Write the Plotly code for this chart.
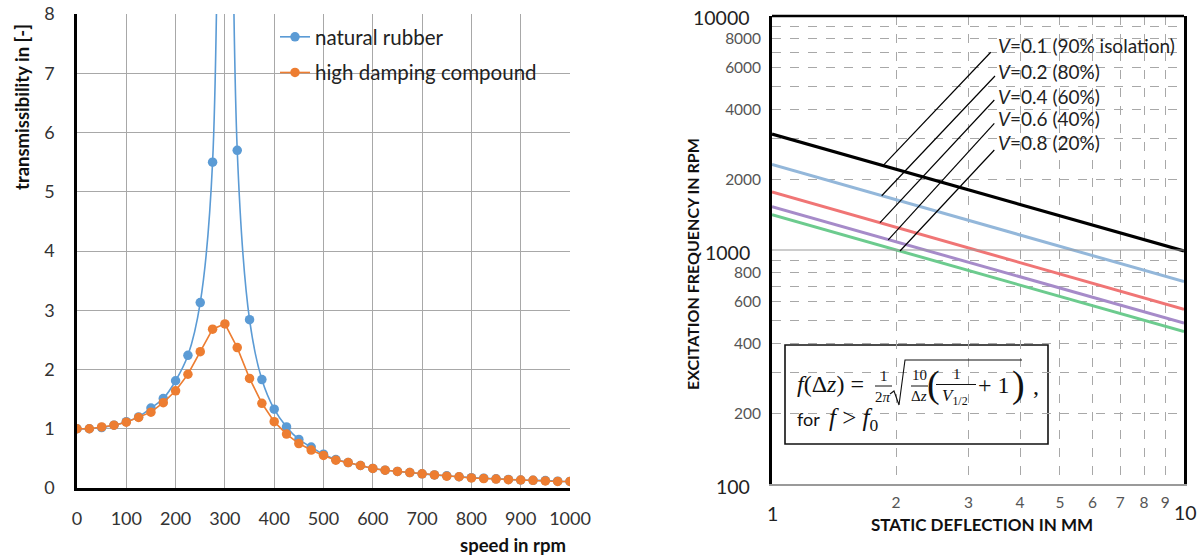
import plotly.graph_objects as go

W, H = 1203, 558

# ---------------- data: left chart ----------------
speed_rpm = [0, 25, 50, 75, 100, 125, 150, 175, 200, 225, 250, 275, 300, 325, 350, 375, 400,
             425, 450, 475, 500, 525, 550, 575, 600, 625, 650, 675, 700, 725, 750, 775, 800,
             825, 850, 875, 900, 925, 950, 975, 1000]
natural_rubber = [1.0, 1.0, 1.02, 1.06, 1.12, 1.2, 1.35, 1.51, 1.81, 2.24, 3.13, 5.5, 30.0, 5.7,
                  2.84, 1.83, 1.33, 1.03, 0.82, 0.69, 0.57, 0.48, 0.43, 0.38, 0.33, 0.30, 0.28,
                  0.26, 0.24, 0.22, 0.205, 0.19, 0.175, 0.165, 0.155, 0.145, 0.135, 0.13, 0.125,
                  0.115, 0.11]
high_damping = [1.0, 1.0, 1.03, 1.06, 1.11, 1.19, 1.28, 1.44, 1.64, 1.92, 2.30, 2.68, 2.77, 2.37,
                1.85, 1.43, 1.12, 0.91, 0.75, 0.64, 0.55, 0.47, 0.43, 0.38, 0.33, 0.30, 0.28,
                0.26, 0.24, 0.22, 0.20, 0.19, 0.17, 0.16, 0.15, 0.14, 0.135, 0.13, 0.12, 0.11,
                0.11]
left_xticks = list(range(0, 1001, 100))
left_yticks = list(range(0, 9))

# ---------------- data: right chart ----------------
deflection_mm = [1, 10]
freq_v01 = [3130, 990]
freq_v02 = [2320, 733]
freq_v04 = [1770, 558]
freq_v06 = [1530, 487]
freq_v08 = [1415, 448]
line_labels = ["<i>V</i>=0.1 (90% isolation)", "<i>V</i>=0.2 (80%)", "<i>V</i>=0.4 (60%)",
               "<i>V</i>=0.6 (40%)", "<i>V</i>=0.8 (20%)"]
# leader lines (lower end on curve -> upper end at label), data coords
leader_x = [[1.86, 3.395], [1.846, 3.477], [1.829, 3.464], [1.915, 3.464], [2.045, 3.464]]
leader_y = [[2295, 7000], [1706, 5540], [1308, 4375], [1105, 3478], [990, 2676]]
x_minor_ticks = [2, 3, 4, 5, 6, 7, 8, 9]
y_label_ticks = [200, 400, 600, 800, 2000, 4000, 6000, 8000]
y_extra_grid = [300, 500, 700, 900, 3000, 5000, 7000, 9000]

# ---------------- helpers (pixel -> paper) ----------------
def px(x):
    return x / W

def py(y):
    return 1 - y / H

FONT = "Lato"
SERIF = "Liberation Serif"

fig = go.Figure()

# left traces
fig.add_trace(go.Scatter(x=speed_rpm, y=natural_rubber, mode="lines+markers", name="natural rubber",
                         line=dict(color="#5B9BD5", width=1.6, shape="spline", smoothing=1.0),
                         marker=dict(color="#5B9BD5", size=9.5), legendgroup="a",
                         xaxis="x", yaxis="y", cliponaxis=True))
fig.add_trace(go.Scatter(x=speed_rpm, y=high_damping, mode="lines+markers", name="high damping compound",
                         line=dict(color="#ED7D31", width=1.6),
                         marker=dict(color="#ED7D31", size=9.5), legendgroup="b",
                         xaxis="x", yaxis="y", cliponaxis=True))

# right traces
right_series = [(freq_v08, "#6CCB8E", 3), (freq_v06, "#A68BC9", 3), (freq_v04, "#F07575", 3),
                (freq_v02, "#93B7DA", 3), (freq_v01, "#000000", 3.2)]
for ys, col, w in right_series:
    fig.add_trace(go.Scatter(x=deflection_mm, y=ys, mode="lines", line=dict(color=col, width=w),
                             showlegend=False, xaxis="x2", yaxis="y2", hoverinfo="skip"))
# solid gridline at 1000
fig.add_trace(go.Scatter(x=deflection_mm, y=[1000, 1000], mode="lines",
                         line=dict(color="#9A9A9A", width=1.2), showlegend=False,
                         xaxis="x2", yaxis="y2", hoverinfo="skip"))
for lx, ly in zip(leader_x, leader_y):
    fig.add_trace(go.Scatter(x=lx, y=ly, mode="lines", line=dict(color="#000000", width=1.2),
                             showlegend=False, xaxis="x2", yaxis="y2", hoverinfo="skip"))

shapes = []
# left legend white background box
shapes.append(dict(type="rect", xref="paper", yref="paper", x0=px(248), x1=px(558), y0=py(88), y1=py(23),
                   fillcolor="white", line=dict(width=0), layer="between"))
# right label white box
shapes.append(dict(type="rect", xref="paper", yref="paper", x0=px(993), x1=px(1183), y0=py(155), y1=py(32),
                   fillcolor="white", line=dict(width=0), layer="between"))
# formula box
shapes.append(dict(type="rect", xref="paper", yref="paper", x0=px(785), x1=px(1048), y0=py(444), y1=py(345),
                   fillcolor="white", line=dict(color="#111111", width=1.6), layer="between"))
# top frame line of right chart
shapes.append(dict(type="line", xref="x2 domain", yref="y2 domain", x0=0, x1=1, y0=1, y1=1,
                   line=dict(color="black", width=2.6)))
# fraction bars
for (a, b, yy) in [(875, 892, 386), (911, 928, 386), (936, 976, 384.5)]:
    shapes.append(dict(type="line", xref="paper", yref="paper", x0=px(a), x1=px(b), y0=py(yy), y1=py(yy),
                       line=dict(color="#111111", width=1)))
# radical sign
rad = [(890, 394), (894, 391), (899, 405), (905, 360), (1022, 360)]
path = "M " + " L ".join(f"{px(a):.5f},{py(b):.5f}" for a, b in rad)
shapes.append(dict(type="path", xref="paper", yref="paper", path=path,
                   line=dict(color="#111111", width=1.1)))

ann = []
def add_text(text, x, y, size, xanchor="center", yanchor="middle", family=FONT, color="#222222", angle=0):
    ann.append(dict(text=text, x=px(x), y=py(y), xref="paper", yref="paper", showarrow=False,
                    xanchor=xanchor, yanchor=yanchor, textangle=angle,
                    font=dict(family=family, size=size, color=color)))

# left titles
add_text("<b>transmissibility in [-]</b>", 22, 107, 18.5, angle=-90, color="#111111")
add_text("<b>speed in rpm</b>", 568, 545, 18.5, xanchor="right", color="#111111")
# right titles
add_text("<b>EXCITATION FREQUENCY IN RPM</b>", 692, 264, 16, angle=-90, color="#111111")
add_text("<b>STATIC DEFLECTION IN MM</b>", 982, 524, 17, color="#111111")
# right major tick labels
add_text("10000", 752, 18, 19.5, xanchor="right")
add_text("1000", 752, 252, 19.5, xanchor="right")
add_text("100", 752, 486, 19.5, xanchor="right")
add_text("1", 772, 513, 19.5)
add_text("10", 1185, 512, 19.5)
# V labels
for lab, yy in zip(line_labels, [45, 71, 96, 119, 142]):
    add_text(lab, 996, yy, 19, xanchor="left")
# formula pieces
add_text("<i>f</i>(Δ<i>z</i>) =", 795, 384, 24, xanchor="left", family=SERIF, color="#111111")
add_text("1", 884, 376, 15, family=SERIF, color="#111111")
add_text("2<i>π</i>", 883, 397, 15, family=SERIF, color="#111111")
add_text("10", 919.5, 375, 15, family=SERIF, color="#111111")
add_text("Δ<i>z</i>", 919, 396, 15, family=SERIF, color="#111111")
add_text("(", 933, 384, 38, family=SERIF, color="#111111")
add_text("1", 956.5, 374, 15, family=SERIF, color="#111111")
add_text("<i>V</i><sub>1/2</sub>", 955, 397, 17, family=SERIF, color="#111111")
add_text("+ 1", 994, 385, 24, family=SERIF, color="#111111")
add_text(")", 1018, 384, 38, family=SERIF, color="#111111")
add_text(",", 1036, 386, 24, family=SERIF, color="#111111")
add_text("for", 795, 419, 18, xanchor="left", color="#111111")
add_text("<i>f</i> > <i>f</i><sub>0</sub>", 827, 419, 25, xanchor="left", family=SERIF, color="#111111")

grid_left = "#A8A8A8"
grid_right = "#A8A8A8"
fig.update_layout(
    width=W, height=H, margin=dict(l=0, r=0, t=0, b=0, autoexpand=False),
    paper_bgcolor="white", plot_bgcolor="white",
    font=dict(family=FONT, color="#333333"),
    showlegend=True,
    legend=dict(x=px(275), y=py(17), xanchor="left", yanchor="top", bgcolor="rgba(0,0,0,0)",
                font=dict(family=FONT, size=20.5, color="#222222"), traceorder="grouped",
                tracegroupgap=6),
    xaxis=dict(domain=[px(77), px(570)], range=[0, 1000], tickvals=left_xticks, showgrid=True,
               gridcolor=grid_left, gridwidth=1.2, zeroline=False, showline=True, linecolor="black",
               linewidth=2.6, ticks="", tickfont=dict(size=18, color="#333333"), ticklabelstandoff=13,
               anchor="y", fixedrange=True, automargin=False),
    yaxis=dict(domain=[py(488), py(14)], range=[0, 8], tickvals=left_yticks, showgrid=True,
               gridcolor=grid_left, gridwidth=1.2, zeroline=False, showline=True, linecolor="black",
               linewidth=2.6, ticks="", tickfont=dict(size=18, color="#333333"), ticklabelstandoff=16,
               anchor="x", fixedrange=True, automargin=False),
    xaxis2=dict(domain=[px(772), px(1184)], type="log", range=[0, 1], tickvals=x_minor_ticks,
                ticktext=[str(v) for v in x_minor_ticks], showgrid=True, gridcolor=grid_right,
                griddash="dash", gridwidth=1.2, zeroline=False, showline=True, linecolor="#9A9A9A",
                linewidth=1.5, ticks="", tickfont=dict(size=15.5, color="#555555"), ticklabelstandoff=4,
                anchor="y2", fixedrange=True, automargin=False),
    yaxis2=dict(domain=[py(484), py(16)], type="log", range=[2, 4], tickvals=y_label_ticks,
                ticktext=[str(v) for v in y_label_ticks], showgrid=True, gridcolor=grid_right,
                griddash="dash", gridwidth=1.2, zeroline=False, showline=True, linecolor="black",
                linewidth=2.6, mirror=True, ticks="", tickfont=dict(size=15.5, color="#555555"),
                ticklabelstandoff=5, anchor="x2", fixedrange=True, automargin=False,
                minor=dict(tickvals=y_extra_grid, showgrid=True, gridcolor=grid_right,
                           griddash="dash", gridwidth=1.2, ticks="")),
    shapes=shapes, annotations=ann,
)

fig.write_html("out.html", config={"displayModeBar": False},
               post_script="document.body.style.margin='0';document.body.style.overflow='hidden';")
